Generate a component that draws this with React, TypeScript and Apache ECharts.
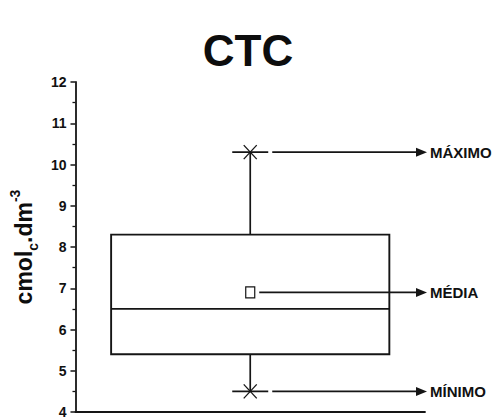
import React, { useEffect, useRef } from "react";
import * as echarts from "echarts";

// ---- data ----
const categories = ["CTC"];
const minValues = [4.5];
const q1Values = [5.4];
const medianValues = [6.5];
const q3Values = [8.3];
const maxValues = [10.3];
const meanValues = [6.9];
const annotationLabels = ["MÁXIMO", "MÉDIA", "MÍNIMO"];
const yTicks = { min: 4, max: 12, interval: 1 };

const INK = "#151515";
const FONT = "'Liberation Sans', Arial, Helvetica, sans-serif";

export default function App() {
  const ref = useRef<HTMLDivElement>(null);

  useEffect(() => {
    if (!ref.current) return;
    const chart = echarts.init(ref.current, undefined, { renderer: "svg" });

    const boxData = categories.map((_, i) => [
      i,
      minValues[i],
      q1Values[i],
      medianValues[i],
      q3Values[i],
      maxValues[i],
      meanValues[i],
    ]);
    const annData = [
      [0, maxValues[0], 0],
      [0, meanValues[0], 1],
      [0, minValues[0], 2],
    ];
    const startOffsets = [22, 9, 22];

    const option: any = {
      animation: false,
      backgroundColor: "#ffffff",
      title: {
        text: "CTC",
        left: "center",
        top: 23,
        textStyle: { fontFamily: FONT, fontWeight: "bold", fontSize: 44, color: "#0d0d0d" },
      },
      grid: { left: 72.5, right: 71, top: 82, bottom: 6.5, containLabel: false },
      xAxis: {
        type: "category",
        data: categories,
        axisLine: { lineStyle: { color: INK, width: 1.8 } },
        axisTick: { alignWithLabel: true, length: 6, lineStyle: { color: INK, width: 1.5 } },
        axisLabel: { show: false },
        splitLine: { show: false },
      },
      yAxis: {
        type: "value",
        min: yTicks.min,
        max: yTicks.max,
        interval: yTicks.interval,
        axisLine: { show: true, lineStyle: { color: INK, width: 1.8 } },
        axisTick: { show: true, inside: false, length: 5, lineStyle: { color: INK, width: 1.5 } },
        minorTick: { show: true, splitNumber: 2, length: 3, lineStyle: { color: INK, width: 1.3 } },
        axisLabel: {
          fontFamily: FONT,
          fontWeight: "bold",
          fontSize: 14,
          color: "#111",
          margin: 9,
        },
        splitLine: { show: false },
        name: "{m|cmol}{sub|c}{m|.dm}{sup|-3}",
        nameLocation: "middle",
        nameRotate: 90,
        nameGap: 24,
        nameTextStyle: {
          fontFamily: FONT,
          fontWeight: "bold",
          color: "#0d0d0d",
          rich: {
            m: { fontFamily: FONT, fontWeight: "bold", fontSize: 23, lineHeight: 32, color: "#0d0d0d" },
            sub: {
              fontFamily: FONT,
              fontWeight: "bold",
              fontSize: 14,
              lineHeight: 14,
              verticalAlign: "bottom",
              color: "#0d0d0d",
            },
            sup: {
              fontFamily: FONT,
              fontWeight: "bold",
              fontSize: 14,
              lineHeight: 14,
              verticalAlign: "top",
              color: "#0d0d0d",
            },
          },
        },
      },
      series: [
        {
          type: "custom",
          data: boxData,
          encode: { x: 0, y: [1, 2, 3, 4, 5, 6] },
          renderItem: (params: any, api: any) => {
            const c = api.value(0);
            const [cx, yMin] = api.coord([c, api.value(1)]);
            const yQ1 = api.coord([c, api.value(2)])[1];
            const yMed = api.coord([c, api.value(3)])[1];
            const yQ3 = api.coord([c, api.value(4)])[1];
            const yMax = api.coord([c, api.value(5)])[1];
            const yMean = api.coord([c, api.value(6)])[1];
            const band = api.size([1, 0])[0];
            const half = (band * 0.796) / 2;
            const line = (x1: number, y1: number, x2: number, y2: number, w = 1.9) => ({
              type: "line",
              shape: { x1, y1, x2, y2 },
              style: { stroke: INK, lineWidth: w },
            });
            const cross = (y: number) => [
              line(cx - 18, y, cx + 18, y, 1.7),
              line(cx - 6.5, y - 7, cx + 6.5, y + 7, 1.3),
              line(cx - 6.5, y + 7, cx + 6.5, y - 7, 1.3),
            ];
            return {
              type: "group",
              children: [
                line(cx, yQ3, cx, yMax, 1.7),
                line(cx, yQ1, cx, yMin, 1.7),
                {
                  type: "rect",
                  shape: { x: cx - half, y: yQ3, width: half * 2, height: yQ1 - yQ3 },
                  style: { fill: "none", stroke: INK, lineWidth: 1.9 },
                },
                line(cx - half, yMed, cx + half, yMed, 1.9),
                ...cross(yMax),
                ...cross(yMin),
                {
                  type: "rect",
                  shape: { x: cx - 4.5, y: yMean - 5.5, width: 9, height: 11 },
                  style: { fill: "#fff", stroke: INK, lineWidth: 1.2 },
                },
              ],
            };
          },
          z: 2,
        },
        {
          type: "custom",
          data: annData,
          clip: false,
          encode: { x: 0, y: 1 },
          renderItem: (params: any, api: any) => {
            const i = api.value(2);
            const [cx, y] = api.coord([api.value(0), api.value(1)]);
            const band = api.size([1, 0])[0];
            const tip = cx + band / 2 + 2;
            const start = cx + startOffsets[i];
            return {
              type: "group",
              children: [
                {
                  type: "line",
                  shape: { x1: start, y1: y, x2: tip - 8, y2: y },
                  style: { stroke: INK, lineWidth: 1.7 },
                },
                {
                  type: "polygon",
                  shape: { points: [[tip, y], [tip - 11, y - 4.5], [tip - 11, y + 4.5]] },
                  style: { fill: INK },
                },
                {
                  type: "text",
                  x: tip + 3,
                  y: y,
                  style: {
                    text: annotationLabels[i],
                    fontFamily: FONT,
                    fontWeight: "bold",
                    fontSize: 15,
                    fill: "#111",
                    align: "left",
                    verticalAlign: "middle",
                  },
                },
              ],
            };
          },
          z: 3,
        },
      ],
    };

    chart.setOption(option);
    return () => chart.dispose();
  }, []);

  return (
    <div
      ref={ref}
      style={{ position: "absolute", left: 0, top: 0, width: 496, height: 419 }}
    />
  );
}
